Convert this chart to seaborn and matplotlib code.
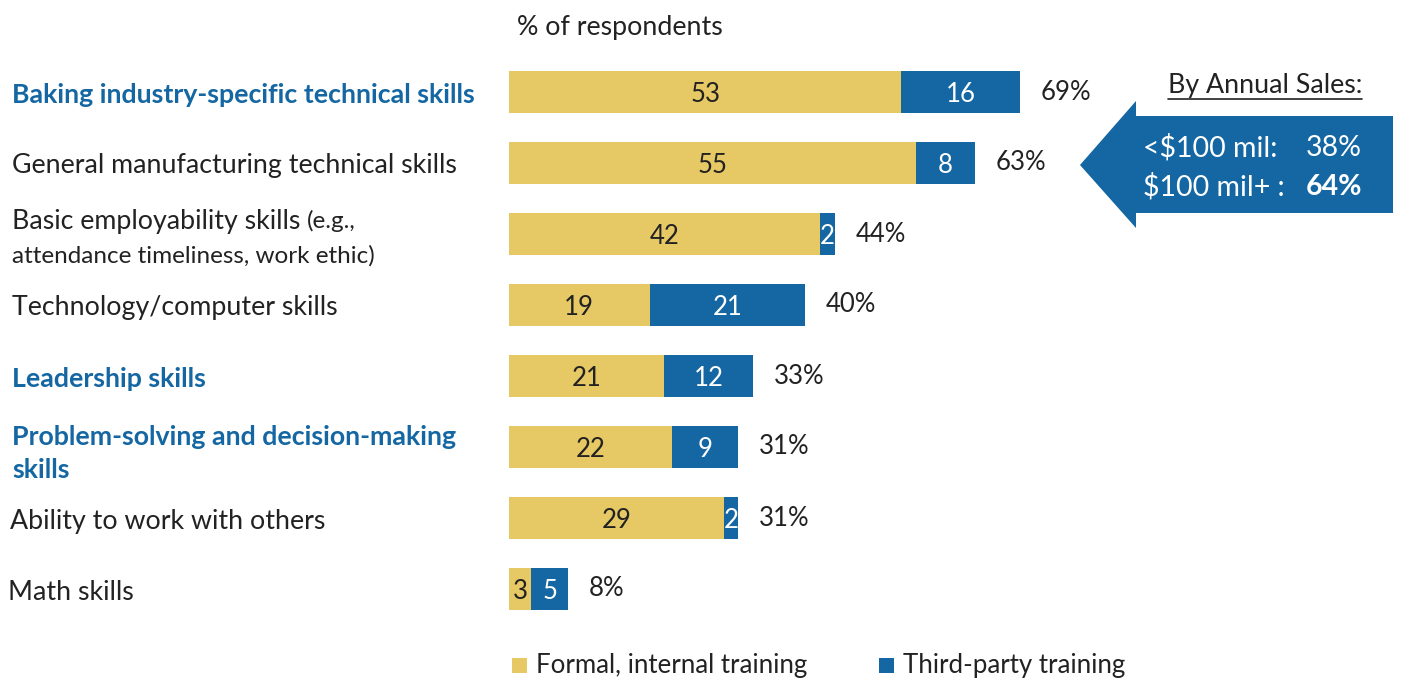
import matplotlib
matplotlib.use("Agg")
import matplotlib.pyplot as plt
import matplotlib.patches as mpatches
import seaborn as sns
import pandas as pd

categories = [
    "Baking industry-specific technical skills",
    "General manufacturing technical skills",
    "Basic employability skills",
    "Technology/computer skills",
    "Leadership skills",
    "Problem-solving and decision-making skills",
    "Ability to work with others",
    "Math skills",
]
formal_internal = [53, 55, 42, 19, 21, 22, 29, 3]
third_party = [16, 8, 2, 21, 12, 9, 2, 5]
highlighted = [True, False, False, False, True, True, False, False]
legend_labels = ["Formal, internal training", "Third-party training"]
sales_labels = ["<$100 mil:", "$100 mil+ :"]
sales_values = [38, 64]

GOLD = "#E6C865"
BLUE = "#1467A2"
DARK = "#222222"
FONT = "Lato"

W, H = 1402, 681
sns.set_theme(style="white")
plt.rcParams["font.family"] = [FONT, "DejaVu Sans"]

df = pd.DataFrame({
    "skill": categories,
    "formal": formal_internal,
    "third": third_party,
})
df["total"] = df["formal"] + df["third"]

fig = plt.figure(figsize=(W / 100, H / 100), dpi=100)
x0 = 509
px_per_unit = 7.4
ax = fig.add_axes([x0 / W, 0, (W - x0) / W, 1])

# stacked bars: total in blue, formal share in gold on top
sns.barplot(data=df, x="total", y="skill", color=BLUE, orient="h",
            width=0.59, ax=ax, saturation=1, edgecolor="none")
sns.barplot(data=df, x="formal", y="skill", color=GOLD, orient="h",
            width=0.59, ax=ax, saturation=1, edgecolor="none")

row0, step = 92, 71
ax.set_xlim(0, (W - x0) / px_per_unit)
ax.set_ylim((H - row0) / step, -row0 / step)
ax.axis("off")

fs = 19.3
vfs = 18.5
for i, r in df.iterrows():
    ax.text(r["formal"] / 2, i + 0.03, f"{r['formal']}", ha="center",
            va="center", fontsize=vfs, color=DARK)
    ax.text(r["formal"] + r["third"] / 2, i + 0.03, f"{r['third']}",
            ha="center", va="center", fontsize=vfs, color="white")
    ax.text(r["total"] + 2.8, i, f"{r['total']}%", ha="left", va="center",
            fontsize=vfs, color=DARK)


def fy(p):
    return 1 - p / H


def fx(p):
    return p / W


# category labels
lx = fx(12)
for i, (name, hl) in enumerate(zip(categories, highlighted)):
    yc = row0 + step * i + 3
    if name == "Basic employability skills":
        t = fig.text(lx, fy(221), "Basic employability skills ", ha="left",
                     va="center", fontsize=fs, color=DARK)
        fig.canvas.draw()
        bb = t.get_window_extent()
        fig.text(bb.x1 / W, fy(221), "(e.g.,", ha="left", va="center",
                 fontsize=17.5, color=DARK)
        fig.text(lx, fy(256), "attendance timeliness, work ethic)", ha="left",
                 va="center", fontsize=17.5, color=DARK)
    elif name.startswith("Problem-solving"):
        fig.text(lx, fy(437), "Problem-solving and decision-making", ha="left",
                 va="center", fontsize=fs, color=BLUE, fontweight="bold")
        fig.text(lx, fy(470), "skills", ha="left", va="center",
                 fontsize=fs, color=BLUE, fontweight="bold")
    else:
        dx = 0
        if name.startswith("Ability"):
            dx = -2
        if name.startswith("Math"):
            dx = -4
        fig.text(fx(12 + dx), fy(yc), name, ha="left", va="center",
                 fontsize=fs, color=BLUE if hl else DARK,
                 fontweight="bold" if hl else "normal")

fig.text(fx(517), fy(27), "% of respondents", ha="left", va="center",
         fontsize=fs, color=DARK)

# legend
for sx, col, lab in [(512, GOLD, legend_labels[0]), (879, BLUE, legend_labels[1])]:
    fig.patches.append(mpatches.Rectangle((fx(sx), fy(673)), fx(15), 15 / H,
                                          transform=fig.transFigure,
                                          facecolor=col, edgecolor="none"))
    fig.text(fx(sx + 24), fy(666), lab, ha="left", va="center",
             fontsize=18.6, color=DARK)

# arrow callout
pts = [(1080, 165), (1136, 101), (1136, 116), (1393, 116), (1393, 213),
       (1136, 213), (1136, 228)]
fig.patches.append(mpatches.Polygon([(fx(a), fy(b)) for a, b in pts],
                                    closed=True, transform=fig.transFigure,
                                    facecolor=BLUE, edgecolor="none"))
t = fig.text(fx(1362), fy(86), "By Annual Sales:", ha="right", va="center",
             fontsize=fs, color=DARK)
fig.canvas.draw()
bb = t.get_window_extent()
fig.add_artist(plt.Line2D([bb.x0 / W, bb.x1 / W], [fy(99), fy(99)],
                          transform=fig.transFigure, color=DARK, lw=1.2))
for j, (lab, v) in enumerate(zip(sales_labels, sales_values)):
    yy = 148 + 39 * j
    fig.text(fx(1143), fy(yy), lab, ha="left", va="center", fontsize=20.5,
             color="white")
    fig.text(fx(1362), fy(yy), f"{v}%", ha="right", va="center", fontsize=20.5,
             color="white", fontweight="bold" if j == 1 else "normal")

fig.savefig("out.png", dpi=100)
